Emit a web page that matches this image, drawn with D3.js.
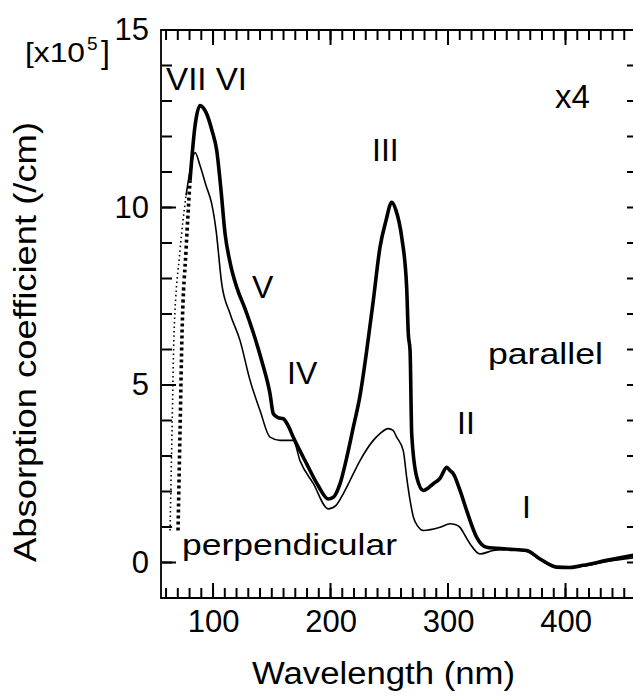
<!DOCTYPE html>
<html><head><meta charset="utf-8">
<script src="https://cdn.jsdelivr.net/npm/d3@7"></script>
</head><body style="margin:0;background:#fff">
<svg id="chart" width="633" height="699"></svg>
<script>
// ---- data (wavelength in nm, absorption coefficient in 1e5 /cm) ----
const wlParallel = [70.2, 71.9, 73.6, 77.0, 80.4, 84.7, 88.9, 94.0, 99.1, 103.1, 106.8, 110.2, 114.5, 120.2, 127.2, 134.0, 141.7, 148.5, 151.3, 155.3, 159.8, 163.8, 168.3, 179.7, 189.4, 198.1, 202.1, 208.1, 213.2, 219.4, 225.1, 230.8, 236.4, 242.1, 247.2, 252.1, 255.7, 260.6, 264.8, 266.2, 267.7, 269.1, 273.4, 279.0, 287.5, 293.2, 298.9, 301.7, 304.5, 310.2, 315.9, 324.4, 332.9, 349.9, 367.0, 378.3, 392.5, 403.8, 415.1, 435.1, 460];
const absParallel = [0.90, 3.72, 6.45, 8.79, 10.76, 12.31, 12.87, 12.68, 12.17, 11.61, 10.48, 9.27, 8.45, 7.75, 7.15, 6.50, 5.65, 4.75, 4.19, 4.08, 4.05, 3.86, 3.53, 2.78, 2.17, 1.79, 1.83, 2.22, 2.87, 3.81, 4.70, 5.97, 7.38, 8.88, 9.63, 10.15, 9.92, 9.16, 7.75, 6.44, 5.97, 3.62, 2.40, 2.03, 2.22, 2.37, 2.68, 2.59, 2.50, 2.03, 1.46, 0.71, 0.43, 0.38, 0.34, 0.10, -0.13, -0.14, -0.08, 0.06, 0.22];

const wlPerpendicular = [63.4, 65.1, 66.8, 71.9, 77.0, 81.3, 84.7, 88.9, 94.0, 98.9, 102.6, 107.4, 114.5, 123.0, 131.5, 140.0, 148.5, 157.0, 163.8, 168.3, 174.0, 185.4, 198.1, 204.7, 210.9, 216.6, 225.1, 236.4, 242.1, 249.1, 253.2, 256.3, 261.9, 264.8, 267.7, 270.5, 274.5, 279.0, 293.2, 301.7, 306.0, 310.2, 314.5, 318.7, 327.2, 338.6, 349.9, 367.0, 378.3, 392.5, 415.1, 435.1, 460];
const absPerpendicular = [0.90, 3.72, 6.45, 8.79, 10.34, 11.18, 11.55, 11.18, 10.62, 10.10, 9.35, 7.85, 7.01, 6.25, 5.13, 4.28, 3.53, 3.44, 3.44, 3.44, 2.87, 2.22, 1.51, 1.61, 1.94, 2.31, 2.87, 3.44, 3.63, 3.77, 3.72, 3.53, 3.15, 2.40, 1.75, 1.28, 1.01, 0.90, 0.99, 1.09, 1.07, 0.99, 0.76, 0.53, 0.24, 0.34, 0.37, 0.31, 0.08, -0.14, -0.10, 0.03, 0.14];

// extrapolated (dotted) short-wavelength ends
const parallelDottedUntil = 80.4;
const perpendicularDottedUntil = 77.0;

const xTickLabels = [100, 200, 300, 400];
const yTickLabels = [0, 5, 10, 15];
const xMinorTicks = d3.range(60, 460, 10);
const yMinorTicks = d3.range(0, 15, 1);

// peak labels
const peakNames = ["VII VI", "V", "IV", "III", "II", "I"];
const peakWl    = [60, 133.2, 163, 235.3, 307.7, 363];
const peakVal   = [13.3, 7.46, 5.04, 11.32, 3.63, 1.24];

// ---- chart ----
const svg = d3.select("#chart");
const x = d3.scaleLinear().domain([55.7, 460]).range([161, 636]);
const y = d3.scaleLinear().domain([-1, 15]).range([598, 30]);
const ink = "black";
const font = "Liberation Sans, Arial, Helvetica, sans-serif";

// tick labels via d3 axes
function styleAxis(g){
  g.select(".domain").remove();
  g.selectAll(".tick line").remove();
  g.selectAll(".tick text").attr("font-family", font).attr("fill", ink).attr("font-size", 31);
}
svg.append("g").attr("transform","translate(0,598)")
  .call(d3.axisBottom(x).tickValues(xTickLabels).tickSize(0).tickPadding(12).tickFormat(d3.format("d")))
  .call(styleAxis);
svg.append("g").attr("transform","translate(161,0)")
  .call(d3.axisLeft(y).tickValues(yTickLabels).tickSize(0).tickPadding(12).tickFormat(d3.format("d")))
  .call(styleAxis);

// frame
svg.append("path")
  .attr("d", `M${x(460)},${y(15)}H${x(55.7)}V${y(-1)}H${x(460)}`)
  .attr("fill","none").attr("stroke", ink).attr("stroke-width", 1.8);

// curves
const line = d3.line().x(d => x(d[0])).y(d => y(d[1])).curve(d3.curveMonotoneX);
function drawSeries(wl, val, cut, width, dash){
  const pts = wl.map((w,i) => [w, val[i]]);
  const dotted = pts.filter(p => p[0] <= cut);
  const solid = pts.filter(p => p[0] >= cut);
  svg.append("path").attr("d", line(dotted)).attr("fill","none")
    .attr("stroke", ink).attr("stroke-width", width).attr("stroke-dasharray", dash);
  svg.append("path").attr("d", line(solid)).attr("fill","none")
    .attr("stroke", ink).attr("stroke-width", width).attr("stroke-linejoin","round");
}
drawSeries(wlPerpendicular, absPerpendicular, perpendicularDottedUntil, 1.6, "1.5,3");
drawSeries(wlParallel, absParallel, parallelDottedUntil, 3.6, "3,3");

function addText(px, py, size, str){
  return svg.append("text").attr("x", px).attr("y", py).attr("font-size", size)
    .attr("font-family", font).attr("fill", ink).text(str);
}

// peak labels
peakNames.forEach((t,i) => {
  const el = addText(x(peakWl[i]), y(peakVal[i]), 32, t);
  if (t === "VII VI") el.attr("textLength", 81).attr("lengthAdjust","spacingAndGlyphs");
});

// other annotations
addText(x(391), y(12.79), 33, "x4");
addText(x(334), y(5.6), 30, "parallel").attr("textLength", 115).attr("lengthAdjust","spacingAndGlyphs");
addText(x(73.6), y(0.2), 30, "perpendicular").attr("textLength", 215).attr("lengthAdjust","spacingAndGlyphs");

// unit multiplier
addText(25, 62, 28, "[x10").attr("textLength", 60).attr("lengthAdjust","spacingAndGlyphs");
addText(87, 50, 19, "5");
addText(101, 63, 32, "]");

// axis titles
addText(383.5, 684, 31, "Wavelength (nm)").attr("text-anchor","middle")
  .attr("textLength", 263).attr("lengthAdjust","spacingAndGlyphs");
addText(0, 0, 32, "Absorption coefficient (/cm)").attr("transform","translate(36,342) rotate(-90)")
  .attr("text-anchor","middle").attr("textLength", 440).attr("lengthAdjust","spacingAndGlyphs");

// tick marks (inward), drawn last, starting just inside the frame lines
function vTicks(vals, y0, y1){
  vals.forEach(v => {
    svg.append("path").attr("d", `M${x(v)},${y0}L${x(v)},${y1}`)
      .attr("stroke", ink).attr("stroke-width", 2).attr("fill", "none");
  });
}
function hTicks(vals, x0, x1){
  vals.forEach(v => {
    svg.append("path").attr("d", `M${x0},${y(v)}L${x1},${y(v)}`)
      .attr("stroke", ink).attr("stroke-width", 2).attr("fill", "none");
  });
}
vTicks(xMinorTicks, 597, 588);
vTicks(xTickLabels, 597, 583);
vTicks(xMinorTicks, 31, 40);
vTicks(xTickLabels, 31, 45);
hTicks(yMinorTicks, 162, 172);
hTicks(yTickLabels, 162, 176);
hTicks(d3.range(-1, 16, 1), 636, 627);
</script>
</body></html>
